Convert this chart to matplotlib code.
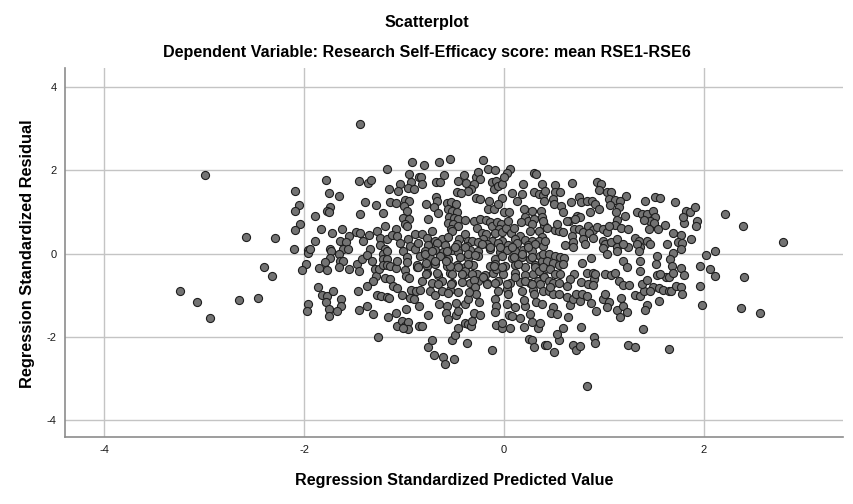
import matplotlib
matplotlib.use("Agg")
import matplotlib.pyplot as plt

plt.rcParams["font.family"] = ["Liberation Sans", "DejaVu Sans"]

# Regression standardized predicted value (x) and residual (y)
pred = [
    # far left
    -2.99, -2.09, -2.05, -2.09, -2.04, -2.09, -2.58, -2.29, -2.10, -1.96, -1.96, -1.98, -2.02, -2.40, -2.32,
    -3.24, -3.07, -2.94, -2.65, -2.46, -1.96, -1.97,
    # left, upper
    -1.44, -0.92, -1.17, -1.78, -1.45, -1.36, -1.33, -0.95, -0.93, -0.85, -1.04, -1.15, -1.06, -0.96, -0.90,
    -1.75, -1.65, -1.39, -1.28, -1.14, -1.08, -0.99, -0.95, -1.00, -0.97, -1.74, -1.77, -1.75, -1.44, -1.21,
    -1.89, -1.01, -0.95, -0.99, -0.97, -1.83, -1.62, -1.72, -1.19, -1.27, -1.08, -1.48, -1.44, -1.35, -1.55,
    -1.64, -1.58, -1.89, -1.41, -1.24, -1.17, -1.12, -1.07, -0.96, -0.89, -1.24, -1.04, -0.94, -1.94, -1.74,
    -1.61, -1.34, -1.19,
    # left, lower
    -1.73, -1.74, -1.65, -1.56, -1.79, -1.77, -1.85, -1.64, -1.61, -1.65, -1.55, -1.47, -1.45, -1.42, -1.37,
    -1.32, -1.29, -1.28, -1.31, -1.37, -1.46, -1.25, -1.21, -1.21, -1.17, -1.21, -1.17, -1.14, -1.08, -1.07,
    -1.19, -1.14, -1.17, -1.01, -0.97, -0.97, -0.99, -0.98, -0.95, -0.87, -0.89, -1.11, -1.07, -1.02, -0.93,
    -0.88, -0.94, -0.90, -0.85, -1.86, -1.82, -1.77, -1.78, -1.71, -1.75, -1.63, -1.63, -1.67, -1.75, -1.37,
    -1.45, -1.31, -1.27, -1.23, -1.17, -1.15, -1.08, -1.16, -0.98, -1.07, -1.02, -0.99, -0.96, -0.96, -1.01,
    -1.26, -0.85,
    # centre, upper
    -0.80, -0.65, -0.54, -0.21, -0.16, -0.09, 0.06, 0.03, 0.30, 0.32, -0.83, -0.82, -0.68, -0.64, -0.60,
    -0.46, -0.40, -0.38, -0.28, -0.26, -0.24, -0.30, -0.33, -0.36, -0.12, -0.08, -0.10, -0.06, -0.02, 0.00,
    0.19, 0.08, 0.18, 0.13, 0.38, 0.30, 0.35, 0.39, -0.47, -0.43, -0.28, -0.24, -0.68, -0.67, -0.78,
    -0.70, -0.66, -0.76, -0.57, -0.53, -0.48, -0.56, -0.52, -0.47, -0.55, -0.50, -0.46, -0.56, -0.51, -0.46,
    -0.53, -0.52, -0.39, -0.15, -0.16, -0.10, -0.02, -0.06, 0.00, 0.05, 0.20, 0.28, 0.21, 0.24, 0.17,
    0.30, 0.28, 0.26, 0.16, 0.37, 0.38, 0.40, 0.35, 0.38, -0.30, -0.24, -0.18, -0.14, -0.12, -0.07,
    -0.03, -0.05, -0.09, -0.02, 0.02, 0.07, 0.10, 0.04, -0.27, -0.22, -0.18, -0.72, -0.82, -0.77, -0.69,
    -0.62, -0.56, -0.45, -0.39, -0.36, -0.32, -0.21, -0.12, -0.02, 0.11, 0.21, 0.28, 0.35,
    # centre, middle rows
    -0.86, -0.76, -0.67, -0.59, -0.47, -0.37, -0.26, -0.17, -0.06, 0.04, 0.13, 0.24, 0.31, 0.39,
    -0.79, -0.69, -0.61, -0.52, -0.46, -0.34, -0.26, -0.14, -0.04, 0.03, 0.11, 0.19, 0.28,
    -0.84, -0.74, -0.64, -0.56, -0.44, -0.36, -0.26, -0.09, -0.02, 0.08, 0.18, 0.26, 0.36,
    -0.87, -0.77, -0.69, -0.57, -0.47, -0.39, -0.31, -0.14, -0.09, 0.01, 0.11, 0.21, 0.31,
    -0.77, -0.66, -0.54, -0.39, -0.27, -0.19, -0.11, -0.01, 0.11, 0.21, 0.29, 0.39,
    -0.82, -0.72, -0.62, -0.52, -0.42, -0.34, -0.26, -0.17, -0.06, 0.06, 0.16, 0.26, 0.34,
    -0.84, -0.74, -0.54, -0.46, -0.31, -0.06, 0.03, 0.18, 0.29,
    -0.79, -0.78, -0.78, -0.86, -0.72, -0.69, -0.67, -0.66, -0.69, -0.62, -0.56, -0.53, -0.52, -0.54, -0.58,
    -0.57, -0.49, -0.46, -0.39, -0.36, -0.32, -0.30, -0.29, -0.42, -0.39, -0.36, -0.29, -0.22, -0.21, -0.17,
    -0.09, -0.08, -0.10, -0.04, -0.02, 0.03, 0.04, 0.11, 0.14, 0.18, 0.24, 0.28, 0.31, 0.21, 0.28,
    0.35, 0.36, 0.39, 0.38, 0.10, 0.08, -0.14,
    # centre, lower
    -0.76, -0.72, -0.70, -0.61, -0.59, -0.50, -0.52, -0.49, -0.46, -0.37, -0.12, -0.82, -0.76, -0.65, -0.57,
    -0.58, -0.56, -0.48, -0.46, -0.48, -0.39, -0.36, -0.33, -0.32, -0.30, -0.24, -0.39, -0.36, -0.25, -0.28,
    -0.35, -0.09, -0.08, -0.09, -0.08, -0.02, 0.06, -0.02, 0.03, 0.05, 0.08, 0.16, 0.11, 0.21, 0.20,
    0.20, 0.26, 0.28, 0.34, 0.25, 0.28, 0.30, 0.41, 0.32, 0.38, 0.30,
    # right, upper
    0.68, 0.93, 0.97, 0.51, 0.95, 1.03, 1.07, 1.22, 1.51, 1.56, 1.41, 0.41, 0.40, 0.51, 0.56,
    0.49, 0.50, 0.57, 0.59, 0.67, 0.75, 0.77, 0.83, 0.88, 0.91, 0.86, 0.95, 0.73, 0.76, 0.65,
    1.05, 1.11, 1.16, 1.06, 1.15, 1.12, 1.21, 1.13, 1.11, 1.17, 1.24, 1.33, 1.38, 1.43, 1.49,
    1.51, 1.46, 1.50, 1.54, 1.61, 1.40, 1.45, 0.39, 0.43, 0.51, 0.55, 0.59, 0.53, 0.63, 0.71,
    0.70, 0.75, 0.79, 0.84, 0.89, 0.85, 0.93, 0.99, 1.03, 1.05, 0.41, 0.61, 0.68, 0.69, 0.79,
    0.81, 0.89, 0.99, 1.01, 1.07, 1.13, 1.13, 1.24, 1.31, 1.35, 1.43, 1.36, 1.63,
    # right, lower
    0.83, 0.50, 0.43, 0.55, 0.53, 0.59, 0.69, 0.72, 0.76, 0.90, 0.91, 0.77, 1.24, 1.31, 1.65,
    1.39, 0.36, 0.49, 0.47, 0.53, 0.64, 0.63, 0.66, 0.69, 0.76, 0.72, 0.78, 0.83, 0.87, 0.92,
    0.99, 1.01, 1.05, 1.03, 1.13, 1.16, 1.17, 1.19, 1.23, 1.31, 1.36, 1.40, 1.43, 1.41, 1.55,
    1.53, 1.62, 1.49, 1.55, 1.59, 1.65, 1.53, 0.39, 0.45, 0.51, 0.56, 0.60, 0.43, 0.49, 0.55,
    0.59, 0.39, 0.46, 0.51, 0.56, 0.40, 0.45, 0.49, 0.55, 0.45, 0.49, 0.55, 0.46, 0.69, 0.78,
    0.87, 0.70, 0.66, 0.63, 0.77, 0.83, 0.89, 0.90, 0.84, 0.89, 0.91, 1.01, 1.07, 1.11, 1.15,
    1.19, 1.25, 0.99, 1.03, 1.13, 1.19, 1.23, 1.33, 1.35, 1.36, 1.36, 1.38, 1.43, 1.46, 1.52,
    1.65, 1.46, 1.19,
    # far right
    2.21, 2.39, 2.79, 2.11, 2.02, 1.96, 2.06, 2.11, 2.40, 1.96, 1.98, 2.37, 2.56, 1.71, 1.82,
    1.86, 1.91, 1.93, 1.92, 1.80, 1.79, 1.69, 1.77, 1.74, 1.78, 1.87, 1.77, 1.69, 1.66, 1.68,
    1.69, 1.77, 1.80, 1.56, 1.67, 1.72, 1.77, 1.78,
]

resid = [
    # far left
    1.88, 1.50, 1.16, 1.03, 0.70, 0.57, 0.40, 0.38, 0.11, 0.09, 0.01, -0.26, -0.40, -0.33, -0.53,
    -0.91, -1.16, -1.55, -1.11, -1.07, -1.21, -1.37,
    # left, upper
    3.12, 2.19, 2.03, 1.77, 1.74, 1.69, 1.76, 1.90, 1.73, 1.83, 1.66, 1.55, 1.50, 1.58, 1.56,
    1.46, 1.39, 1.24, 1.17, 1.24, 1.21, 1.29, 1.27, 1.14, 1.03, 1.13, 1.02, 0.99, 0.95, 0.98,
    0.91, 0.86, 0.82, 0.71, 0.67, 0.58, 0.60, 0.50, 0.66, 0.55, 0.58, 0.51, 0.49, 0.44, 0.41,
    0.31, 0.27, 0.30, 0.31, 0.38, 0.34, 0.45, 0.42, 0.36, 0.46, 0.21, 0.25, 0.19, 0.11, 0.11,
    0.11, 0.11, 0.11,
    # left, lower
    0.05, -0.11, 0.00, 0.10, -0.21, -0.39, -0.34, -0.17, -0.19, -0.32, -0.37, -0.26, -0.43, -0.13, -0.03,
    -0.19, -0.38, -0.53, -0.67, -0.79, -0.89, -0.38, 0.00, -0.13, -0.14, -0.27, -0.27, -0.31, -0.35, -0.19,
    -0.58, -0.61, 0.05, 0.07, -0.09, -0.21, -0.39, -0.53, -0.58, -0.32, 0.11, -0.79, -0.82, -0.99, -0.88,
    -0.91, -1.06, -1.09, -1.25, -0.81, -0.99, -1.03, -1.17, -0.90, -1.33, -1.09, -1.27, -1.39, -1.49, -1.25,
    -1.35, -1.45, -0.99, -1.03, -1.05, -1.07, -1.43, -1.53, -1.33, -1.73, -1.62, -1.73, -1.65, -1.81, -1.78,
    -2.00, -1.73,
    # centre, upper
    2.12, 2.19, 2.28, 2.24, 2.04, 2.00, 2.03, 1.94, 1.93, 1.92, 1.83, 1.67, 1.72, 1.72, 1.88,
    1.75, 1.88, 1.69, 1.83, 1.95, 1.80, 1.66, 1.55, 1.51, 1.72, 1.75, 1.56, 1.63, 1.66, 1.85,
    1.68, 1.45, 1.42, 1.26, 1.68, 1.47, 1.44, 1.40, 1.47, 1.45, 1.34, 1.31, 1.37, 1.27, 1.19,
    1.11, 0.97, 0.84, 1.21, 1.23, 1.18, 1.06, 1.03, 1.00, 0.89, 0.86, 0.82, 0.73, 0.71, 0.67,
    0.60, 0.55, 0.81, 1.26, 1.06, 1.08, 1.34, 1.18, 1.00, 1.00, 1.06, 1.02, 0.89, 0.79, 0.76,
    0.82, 0.71, 0.55, 0.41, 1.03, 0.87, 0.68, 0.55, 0.39, 0.79, 0.84, 0.81, 0.76, 0.65, 0.76,
    0.70, 0.58, 0.50, 0.52, 0.62, 0.50, 0.62, 0.79, 0.62, 0.50, 0.46, 0.54, 0.47, 0.38, 0.31,
    0.34, 0.39, 0.34, 0.47, 0.31, 0.31, 0.34, 0.31, 0.31, 0.34, 0.33, 0.31, 0.31,
    # centre, middle rows
    0.25, 0.21, 0.26, 0.20, 0.24, 0.19, 0.27, 0.22, 0.25, 0.20, 0.26, 0.21, 0.24, 0.19,
    0.05, 0.09, 0.04, 0.08, 0.03, 0.09, 0.06, 0.10, 0.04, 0.08, 0.05, 0.09, 0.06,
    -0.07, -0.11, -0.06, -0.12, -0.08, -0.10, -0.06, -0.12, -0.07, -0.11, -0.08, -0.12, -0.07,
    -0.27, -0.31, -0.26, -0.30, -0.28, -0.32, -0.27, -0.30, -0.26, -0.31, -0.28, -0.32, -0.27,
    -0.47, -0.51, -0.46, -0.50, -0.48, -0.52, -0.47, -0.50, -0.46, -0.51, -0.48, -0.52,
    -0.67, -0.71, -0.66, -0.70, -0.68, -0.72, -0.67, -0.70, -0.66, -0.71, -0.68, -0.72, -0.67,
    -0.87, -0.91, -0.88, -0.92, -0.87, -0.90, -0.86, -0.91, -0.88,
    -0.01, -0.22, -0.49, -0.33, 0.07, -0.17, -0.46, -0.73, -1.00, -0.89, -0.94, -0.73, -0.49, -0.30, -0.17,
    0.07, 0.15, -0.33, -0.41, -0.25, -0.49, -0.63, -0.81, -0.49, 0.15, -0.01, -0.04, 0.23, -0.57, -0.73,
    -0.70, -0.36, -0.30, 0.15, -0.33, -0.73, -0.97, -0.57, -0.25, -0.01, 0.15, -0.09, -0.33, -0.65, -0.73,
    -0.41, -0.73, -0.89, -0.17, -0.09, 0.15, 0.15,
    # centre, lower
    -2.24, -2.09, -2.43, -2.48, -2.65, -2.54, -2.07, -1.95, -1.80, -2.16, -2.31, -1.74, -1.47, -1.21, -1.26,
    -1.42, -1.58, -1.47, -1.37, -1.18, -1.68, -1.69, -1.74, -1.61, -1.42, -1.47, -1.21, -1.10, -1.16, -0.97,
    -0.92, -1.10, -1.26, -1.40, -1.72, -1.79, -1.80, -1.68, -1.21, -1.47, -1.51, -1.56, -1.29, -1.26, -1.11,
    -1.77, -1.45, -1.64, -1.80, -2.06, -2.09, -2.25, -2.19, -1.16, -1.21, -0.97,
    # right, upper
    1.70, 1.71, 1.68, 1.64, 1.53, 1.48, 1.47, 1.39, 1.37, 1.34, 1.26, 1.51, 1.26, 1.48, 1.47,
    1.31, 1.18, 1.15, 0.99, 1.24, 1.35, 1.24, 1.27, 1.27, 1.19, 0.99, 1.06, 0.91, 0.87, 0.78,
    1.31, 1.29, 1.26, 1.16, 1.13, 0.99, 0.91, 0.81, 0.68, 0.62, 0.60, 1.00, 0.95, 0.95, 1.03,
    0.87, 0.78, 0.73, 0.58, 0.68, 0.81, 0.60, 0.79, 0.62, 0.57, 0.55, 0.52, 0.71, 0.79, 0.84,
    0.58, 0.60, 0.52, 0.65, 0.57, 0.50, 0.63, 0.58, 0.52, 0.67, 0.31, 0.20, 0.43, 0.27, 0.36,
    0.22, 0.38, 0.31, 0.23, 0.28, 0.34, 0.15, 0.15, 0.38, 0.31, 0.30, 0.15, 0.23,
    # right, lower
    -3.19, -2.36, -2.19, -2.09, -1.93, -1.80, -2.19, -2.33, -2.22, -2.00, -2.14, -1.77, -2.20, -2.24, -2.30,
    -1.82, -1.66, -1.29, -1.42, -1.45, -1.53, -1.05, -1.23, -1.10, -1.13, -0.97, -0.97, -1.02, -1.19, -1.39,
    -1.10, -0.97, -1.16, -1.29, -1.35, -1.53, -1.08, -1.26, -1.40, -0.99, -1.02, -0.89, -1.24, -1.35, -1.15,
    -0.52, -0.57, -0.81, -0.84, -0.87, -0.89, -0.05, -0.01, -0.01, -0.07, -0.09, -0.10, -0.17, -0.22, -0.28,
    -0.26, -0.33, -0.38, -0.49, -0.49, -0.57, -0.65, -0.70, -0.70, -0.89, -0.97, -0.97, -0.81, 0.15, -0.22,
    -0.10, -0.49, -0.62, -0.78, -0.68, -0.46, -0.46, -0.62, -0.73, -0.76, -0.49, -0.49, -0.52, -0.46, -0.65,
    -0.76, -0.76, 0.14, -0.02, 0.07, -0.17, -0.33, 0.23, 0.07, -0.17, -0.41, -0.73, -0.63, -0.89, -0.25,
    -0.57, 0.23, 0.23,
    # far right
    0.94, 0.67, 0.28, 0.06, -0.03, -0.31, -0.37, -0.55, -0.57, -0.77, -1.24, -1.32, -1.43, 1.23, 1.02,
    1.00, 1.11, 0.79, 0.65, 0.73, 0.89, 0.49, 0.44, 0.28, 0.26, 0.36, 0.12, 0.01, -0.14, -0.30,
    -0.46, -0.34, -0.52, -0.49, -0.91, -0.78, -0.81, -0.97,
]

x_ticks = [-4, -2, 0, 2]
y_ticks = [-4, -2, 0, 2, 4]

fig = plt.figure(figsize=(8.54, 5.04), dpi=100)
ax = fig.add_axes([65 / 854, 1 - 437 / 504, (843 - 65) / 854, (437 - 68) / 504])

ax.scatter(pred, resid, s=34, facecolor="#737373", edgecolor="#1e1e1e", linewidths=0.8, zorder=3)

ax.set_xlim(-4.39, 3.39)
ax.set_ylim(-4.41, 4.46)
ax.set_xticks(x_ticks)
ax.set_yticks(y_ticks)
ax.set_xticklabels([str(t) for t in x_ticks])
ax.set_yticklabels([str(t) for t in y_ticks])
ax.tick_params(length=0, labelsize=8, pad=6, colors="#1a1a1a")
ax.grid(True, color="#c4c4c4", linewidth=1.0, zorder=0)
ax.set_axisbelow(True)

for side in ["top", "right"]:
    ax.spines[side].set_visible(False)
for side in ["left", "bottom"]:
    ax.spines[side].set_color("#8c8c8c")
    ax.spines[side].set_linewidth(1.2)

fig.text(0.5, 1 - 22 / 504, "Scatterplot", ha="center", va="center", fontsize=11.6, fontweight="bold")
fig.text(0.5, 1 - 52 / 504, "Dependent Variable: Research Self-Efficacy score: mean RSE1-RSE6",
         ha="center", va="center", fontsize=11.6, fontweight="bold")
fig.text(454 / 854, 1 - 480 / 504, "Regression Standardized Predicted Value",
         ha="center", va="center", fontsize=11.6, fontweight="bold")
fig.text(28 / 854, 1 - 254 / 504, "Regression Standardized Residual",
         ha="center", va="center", rotation=90, fontsize=11.8, fontweight="bold")

fig.savefig("out.png", dpi=100)
